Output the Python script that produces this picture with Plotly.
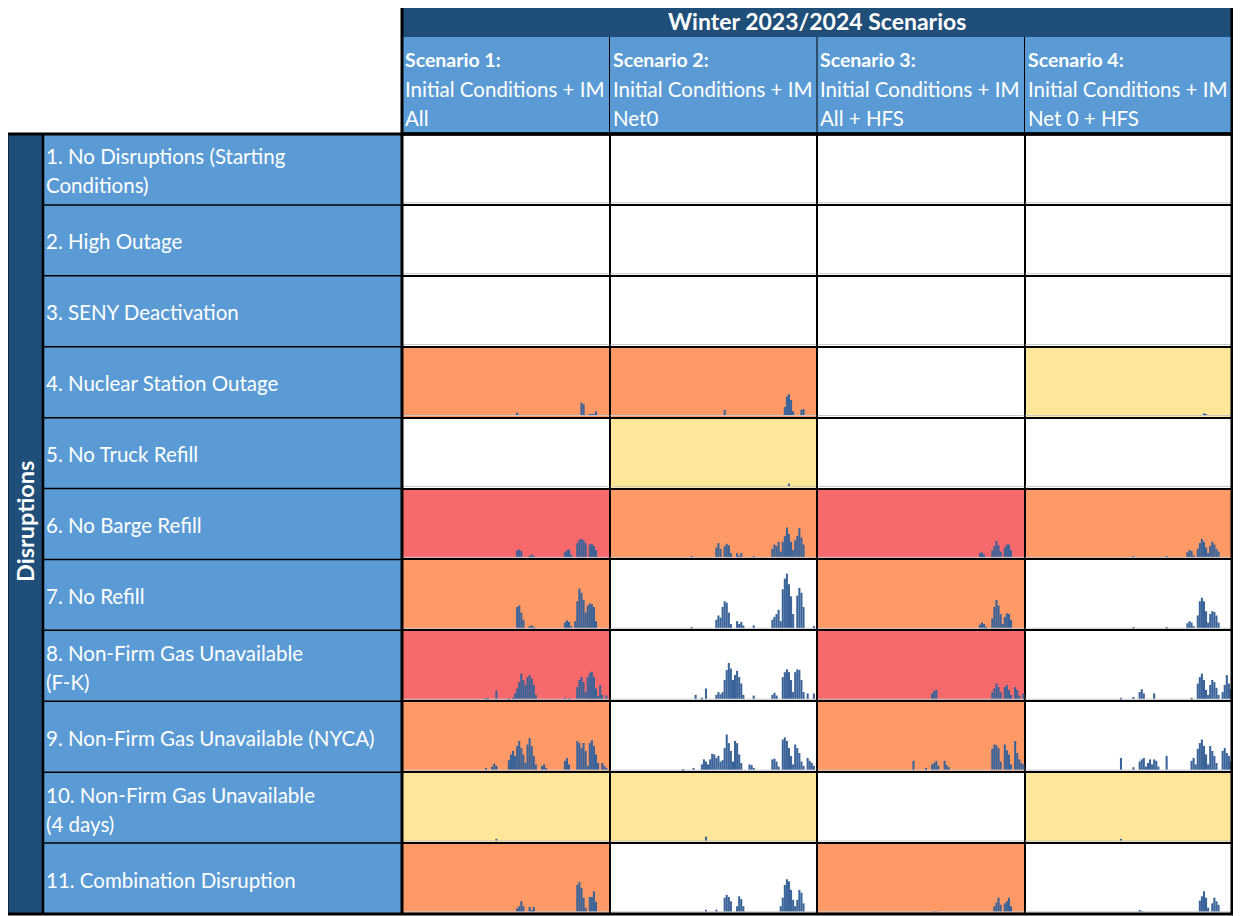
import plotly.graph_objects as go

W, H = 1241, 916
PAGE_OFF = 8  # body margin of the html page
FW, FH = W - 2 * PAGE_OFF, H - PAGE_OFF

DARK = "#1F4E79"
LIGHT = "#5B9BD5"
BAR = "#3A6399"
FONT = "Lato"
SEV_COLORS = {"none": "#FFFFFF", "low": "#FFE699", "medium": "#FF9966", "high": "#F8696B"}

title = "Winter 2023/2024 Scenarios"
scenario_names = ["Scenario 1:", "Scenario 2:", "Scenario 3:", "Scenario 4:"]
scenario_line2 = ["Initial Conditions + IM"] * 4
scenario_line3 = ["All", "Net0", "All + HFS", "Net 0 + HFS"]

disruptions = [
    ["1. No Disruptions (Starting", "Conditions)"],
    ["2. High Outage"],
    ["3. SENY Deactivation"],
    ["4. Nuclear Station Outage"],
    ["5. No Truck Refill"],
    ["6. No Barge Refill"],
    ["7. No Refill"],
    ["8. Non-Firm Gas Unavailable", "(F-K)"],
    ["9. Non-Firm Gas Unavailable (NYCA)"],
    ["10. Non-Firm Gas Unavailable", "(4 days)"],
    ["11. Combination Disruption"],
]

# cell shading per disruption row, scenarios 1-4
severity = [
    ["none", "none", "none", "none"],
    ["none", "none", "none", "none"],
    ["none", "none", "none", "none"],
    ["medium", "medium", "none", "low"],
    ["none", "low", "none", "none"],
    ["high", "medium", "high", "medium"],
    ["medium", "none", "medium", "none"],
    ["high", "none", "high", "none"],
    ["medium", "none", "medium", "none"],
    ["low", "low", "none", "low"],
    ["medium", "none", "medium", "none"],
]

# mini bar charts: {time bin (0-99 across winter): deficit, % of cell height}
r4_s1 = {55: 4, 86: 18, 87: 16, 90: 2, 91: 2, 92: 2, 93: 6}
r4_s2 = {55: 8, 84: 12, 85: 27, 86: 30, 87: 22, 88: 6, 92: 8, 93: 9}
r4_s4 = {86: 3, 87: 2}
r5_s2 = {86: 4}
r6_s1 = {55: 10, 56: 11, 57: 9, 61: 2, 62: 4, 63: 2, 78: 7, 79: 10, 80: 11, 81: 4,
         84: 20, 85: 25, 86: 26, 87: 24, 88: 20, 90: 18, 91: 19, 92: 16, 93: 10}
r6_s2 = {39: 1, 51: 14, 52: 20, 53: 12, 55: 16, 56: 19, 57: 17, 58: 6, 61: 6, 62: 2, 63: 6,
         69: 2, 78: 12, 79: 18, 80: 16, 81: 22, 82: 8, 83: 22, 84: 30, 85: 42, 86: 33,
         87: 22, 88: 10, 89: 24, 90: 30, 91: 41, 92: 28, 93: 18}
r6_s3 = {78: 6, 79: 7, 80: 4, 84: 10, 85: 16, 86: 23, 87: 17, 88: 8, 90: 14, 91: 18,
         92: 18, 93: 10}
r6_s4 = {52: 1, 68: 1, 78: 7, 79: 10, 80: 9, 81: 3, 83: 12, 84: 20, 85: 26, 86: 22,
         87: 14, 88: 6, 89: 16, 90: 22, 91: 18, 92: 12, 93: 8}
r7_s1 = {55: 30, 56: 32, 57: 22, 58: 12, 61: 3, 62: 4, 63: 2, 78: 8, 79: 11, 80: 9, 81: 3,
         83: 10, 84: 38, 85: 56, 86: 50, 87: 40, 88: 22, 89: 32, 90: 35, 91: 34, 92: 30,
         93: 10}
r7_s2 = {39: 1, 51: 12, 52: 18, 53: 15, 54: 30, 55: 38, 56: 36, 57: 22, 58: 6, 61: 10,
         62: 6, 63: 9, 64: 4, 69: 4, 78: 12, 79: 16, 80: 20, 81: 26, 82: 10, 83: 55,
         84: 70, 85: 77, 86: 62, 87: 45, 88: 20, 90: 46, 91: 57, 92: 50, 93: 30, 98: 3}
r7_s3 = {78: 5, 79: 8, 80: 6, 81: 2, 84: 14, 85: 30, 86: 40, 87: 32, 88: 20, 89: 6,
         90: 16, 91: 21, 92: 20, 93: 12}
r7_s4 = {52: 1, 68: 1, 78: 7, 79: 10, 80: 8, 81: 3, 83: 18, 84: 38, 85: 43, 86: 38,
         87: 24, 88: 8, 89: 20, 90: 24, 91: 23, 92: 18, 93: 8}
r8_s1 = {40: 1, 41: 1, 45: 12, 51: 1, 53: 2, 54: 8, 55: 15, 56: 24, 57: 36, 58: 27,
         59: 20, 60: 31, 61: 34, 62: 29, 63: 20, 64: 6, 78: 2, 80: 1, 84: 17, 85: 27,
         86: 31, 87: 24, 88: 10, 89: 31, 90: 37, 91: 39, 92: 31, 93: 15, 94: 4, 95: 20,
         96: 6, 98: 5}
r8_s2 = {41: 6, 44: 2, 46: 15, 51: 6, 52: 10, 53: 7, 54: 10, 55: 27, 56: 41, 57: 51,
         58: 43, 59: 27, 60: 34, 61: 40, 62: 31, 63: 22, 64: 6, 69: 5, 78: 6, 79: 9,
         80: 5, 83: 31, 84: 38, 85: 42, 86: 38, 87: 27, 88: 10, 89: 38, 90: 42, 91: 41,
         92: 27, 93: 10, 95: 8, 98: 8}
r8_s3 = {55: 8, 56: 12, 57: 13, 84: 10, 85: 15, 86: 22, 87: 17, 88: 10, 90: 17, 91: 20,
         92: 13, 93: 6, 95: 17, 96: 13, 97: 5, 99: 8}
r8_s4 = {46: 2, 52: 3, 55: 10, 56: 14, 57: 8, 62: 8, 80: 2, 83: 22, 84: 31, 85: 36,
         86: 27, 87: 13, 88: 6, 89: 20, 90: 27, 91: 24, 92: 16, 93: 6, 95: 10, 96: 20,
         97: 34, 98: 22, 99: 14}
r9_s1 = {40: 3, 43: 5, 44: 9, 45: 6, 51: 14, 52: 22, 53: 27, 54: 20, 55: 34, 56: 41,
         57: 31, 58: 22, 59: 10, 60: 36, 61: 45, 62: 34, 63: 20, 64: 8, 67: 6, 68: 8,
         69: 3, 78: 13, 79: 17, 80: 8, 84: 41, 85: 38, 86: 31, 87: 38, 88: 27, 89: 6,
         90: 38, 91: 42, 92: 34, 93: 22, 94: 10, 96: 10, 97: 6, 98: 3}
r9_s2 = {35: 1, 40: 3, 44: 8, 45: 15, 46: 12, 47: 8, 48: 15, 49: 23, 50: 22, 51: 17,
         52: 20, 53: 12, 54: 14, 55: 31, 56: 50, 57: 38, 58: 27, 59: 12, 60: 41, 61: 38,
         62: 22, 63: 10, 67: 8, 68: 7, 69: 3, 78: 15, 79: 16, 80: 12, 81: 5, 83: 43,
         84: 46, 85: 41, 86: 31, 87: 20, 88: 8, 89: 36, 90: 31, 91: 24, 92: 12, 93: 6,
         95: 17, 96: 13, 97: 10, 98: 6}
r9_s3 = {46: 13, 52: 3, 55: 8, 56: 10, 57: 13, 58: 6, 61: 13, 62: 7, 63: 4, 84: 30,
         85: 36, 86: 35, 87: 31, 88: 12, 90: 36, 91: 28, 92: 22, 93: 8, 95: 41, 96: 24,
         97: 15, 98: 10, 99: 8}
r9_s4 = {46: 17, 52: 4, 55: 12, 56: 15, 57: 17, 58: 5, 59: 10, 60: 15, 61: 8, 62: 15,
         63: 13, 64: 5, 68: 20, 80: 13, 81: 17, 82: 8, 83: 30, 84: 38, 85: 43, 86: 34,
         87: 22, 88: 8, 89: 34, 90: 27, 91: 20, 92: 10, 95: 27, 96: 31, 97: 24, 98: 20,
         99: 12}
r10_s1 = {45: 3}
r10_s2 = {46: 6}
r10_s4 = {46: 3}
r11_s1 = {55: 5, 56: 8, 57: 15, 58: 8, 61: 7, 62: 2, 63: 7, 84: 38, 85: 42, 86: 34,
          87: 20, 88: 6, 90: 21, 91: 21, 92: 29, 93: 14}
r11_s2 = {46: 3, 51: 3, 55: 20, 56: 24, 57: 21, 58: 15, 61: 8, 62: 22, 63: 18, 64: 8,
          82: 8, 83: 20, 84: 38, 85: 46, 86: 43, 87: 31, 88: 17, 89: 8, 90: 17, 91: 31,
          92: 27, 93: 12}
r11_s3 = {56: 1, 57: 1, 85: 8, 86: 13, 87: 20, 88: 10, 90: 12, 91: 15, 92: 20, 93: 8}
r11_s4 = {55: 2, 56: 1, 84: 16, 85: 22, 86: 29, 87: 20, 88: 6, 90: 12, 91: 20, 92: 15,
          93: 10}

cell_bars = {
    (3, 0): r4_s1, (3, 1): r4_s2, (3, 3): r4_s4,
    (4, 1): r5_s2,
    (5, 0): r6_s1, (5, 1): r6_s2, (5, 2): r6_s3, (5, 3): r6_s4,
    (6, 0): r7_s1, (6, 1): r7_s2, (6, 2): r7_s3, (6, 3): r7_s4,
    (7, 0): r8_s1, (7, 1): r8_s2, (7, 2): r8_s3, (7, 3): r8_s4,
    (8, 0): r9_s1, (8, 1): r9_s2, (8, 2): r9_s3, (8, 3): r9_s4,
    (9, 0): r10_s1, (9, 1): r10_s2, (9, 3): r10_s4,
    (10, 0): r11_s1, (10, 1): r11_s2, (10, 2): r11_s3, (10, 3): r11_s4,
}
N_BINS = 100

# ---------------- geometry (page pixels) ----------------
GX0, GX1 = 402, 1232
GY0, GY1 = 134, 914
LX0, DX0 = 43, 7
HY0, HY1 = 5, 37
NR, NC = len(disruptions), len(scenario_names)
ROW_H = (GY1 - GY0) / NR
COL_W = (GX1 - GX0) / NC
BASE_OFF = 0.03


def px(x):
    return (x - PAGE_OFF) / FW


def py(y):
    return 1 - (y - PAGE_OFF) / FH


# ---------------- heatmap cells ----------------
sev_order = ["none", "low", "medium", "high"]
z = [[sev_order.index(s) for s in row] for row in severity]
colorscale = []
for i, s in enumerate(sev_order):
    colorscale += [[i / 4, SEV_COLORS[s]], [(i + 1) / 4, SEV_COLORS[s]]]

fig = go.Figure()
fig.add_trace(go.Heatmap(
    z=z, x=[c + 0.5 for c in range(NC)], y=[NR - r - 0.5 for r in range(NR)],
    zmin=-0.5, zmax=3.5, colorscale=colorscale, showscale=False,
    xgap=2, ygap=2, hoverinfo="skip",
))

# axis baselines of the mini charts
bx, by = [], []
for r in range(NR):
    for c in range(NC):
        b = NR - r - 1 + BASE_OFF
        bx += [c + 0.004, c + 0.996, None]
        by += [b, b, None]
fig.add_trace(go.Scatter(x=bx, y=by, mode="lines", line=dict(color="#C8C8C8", width=1),
                         hoverinfo="skip"))

# bars
xs, ys, bases = [], [], []
for (r, c), d in cell_bars.items():
    for t, v in d.items():
        xs.append(c + (t + 0.5) / N_BINS)
        ys.append(v / 100)
        bases.append(NR - r - 1 + BASE_OFF)
fig.add_trace(go.Bar(x=xs, y=ys, base=bases, width=1 / N_BINS,
                     marker=dict(color=BAR, line=dict(width=0)), hoverinfo="skip"))

# ---------------- table frame ----------------
shapes = []


def rect(x0, y0, x1, y1, fill=None, lw=0, lc="black"):
    shapes.append(dict(type="rect", xref="paper", yref="paper",
                       x0=px(x0), x1=px(x1), y0=py(y1), y1=py(y0),
                       fillcolor=fill if fill else "rgba(0,0,0,0)",
                       line=dict(width=lw, color=lc), layer="above" if not fill else "below"))


def line(x0, y0, x1, y1, lw=1):
    shapes.append(dict(type="line", xref="paper", yref="paper",
                       x0=px(x0), x1=px(x1), y0=py(y0), y1=py(y1),
                       line=dict(width=lw, color="black"), layer="above"))


rect(GX0, HY0, GX1, HY1, fill=DARK)
rect(GX0, HY1, GX1, GY0, fill=LIGHT)
rect(DX0, GY0, LX0, GY1, fill=DARK)
rect(LX0, GY0, GX0, GY1, fill=LIGHT)
for k in range(1, NC):
    line(GX0 + k * COL_W, HY1, GX0 + k * COL_W, GY0, lw=1)
for k in range(1, NR):
    line(LX0, GY0 + k * ROW_H, GX0, GY0 + k * ROW_H, lw=1.5)
line(LX0, GY0, LX0, GY1, lw=2.5)
line(GX0, GY0, GX0, GY1, lw=3)
line(GX0, GY0, GX1, GY0, lw=3)
rect(GX0, HY0, GX1, GY0, lw=3)
rect(DX0, GY0, GX1, GY1, lw=3)

# ---------------- text ----------------
ann = []


def text(x, y, s, size=20.5, anchor="left", bold=False, angle=0):
    ann.append(dict(xref="paper", yref="paper", x=px(x), y=py(y), text=f"<b>{s}</b>" if bold else s,
                    showarrow=False, xanchor=anchor, yanchor="middle", textangle=angle,
                    font=dict(family=FONT, size=size, color="white")))


text((GX0 + GX1) / 2, 21, title, size=23, anchor="center", bold=True)
for c in range(NC):
    x = GX0 + c * COL_W + 1
    text(x, 59, scenario_names[c], size=19.5, bold=True)
    text(x, 89, scenario_line2[c])
    text(x, 118, scenario_line3[c])

text((DX0 + LX0) / 2, 522, "Disruptions", size=23.5, anchor="center", bold=True, angle=-90)
for r, lines in enumerate(disruptions):
    yc = GY0 + (r + 0.5) * ROW_H
    if len(lines) == 1:
        text(LX0 + 1, yc + 1, lines[0])
    else:
        text(LX0 + 1, yc - 13, lines[0])
        text(LX0 + 1, yc + 16, lines[1])

fig.update_layout(
    width=FW, height=FH, margin=dict(l=0, r=0, t=0, b=0),
    paper_bgcolor="white", plot_bgcolor="black", showlegend=False,
    xaxis=dict(domain=[px(GX0), px(GX1)], range=[0, NC], visible=False, fixedrange=True),
    yaxis=dict(domain=[py(GY1), py(GY0)], range=[0, NR], visible=False, fixedrange=True),
    shapes=shapes, annotations=ann,
)

fig.write_html("out.html", config={"displayModeBar": False})
